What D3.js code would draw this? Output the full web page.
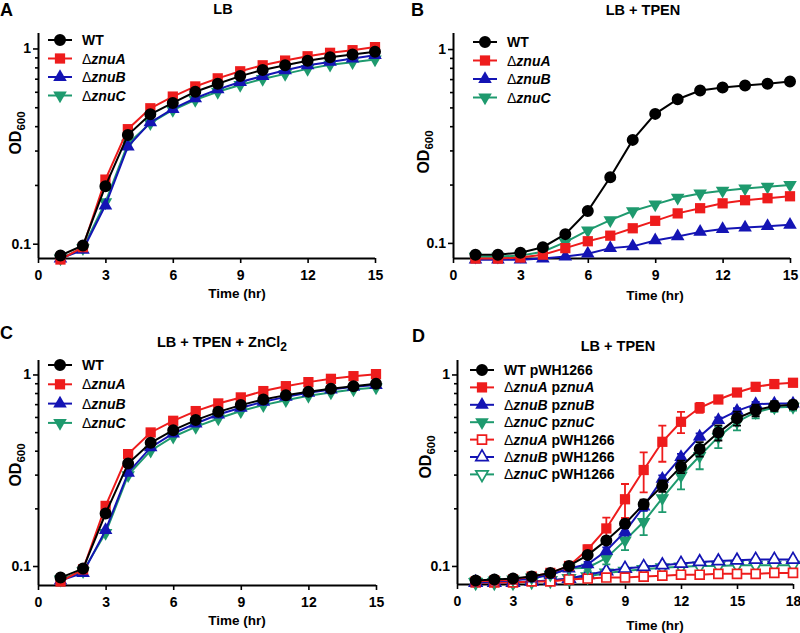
<!DOCTYPE html>
<html><head><meta charset="utf-8">
<script src="https://cdn.jsdelivr.net/npm/d3@7"></script>
<style>
body{margin:0;background:#fff}
svg text{font-family:Arial,"Liberation Sans",sans-serif;font-weight:bold;fill:#000}
</style>
</head><body>
<svg id="c" width="800" height="633"></svg>
<script>
// ---------- data ----------
const timesABC = [1,2,3,4,5,6,7,8,9,10,11,12,13,14,15];
const timesD = [1,2,3,4,5,6,7,8,9,10,11,12,13,14,15,16,17,18];
const xTicksABC = [0,3,6,9,12,15];
const xTicksD = [0,3,6,9,12,15,18];
const yTickValues = [0.1,0.2,0.3,0.4,0.5,0.6,0.7,0.8,0.9,1];
const yMajorTicks = [0.1,1];
const yTickLabels = ["0.1","1"];

const seriesNamesABC = ["WT","Δ*znuA*","Δ*znuB*","Δ*znuC*"];
const seriesNamesD = ["WT pWH1266","Δ*znuA* p*znuA*","Δ*znuB* p*znuB*","Δ*znuC* p*znuC*","Δ*znuA* pWH1266","Δ*znuB* pWH1266","Δ*znuC* pWH1266"];
const panelLetters = ["A","B","C","D"];
const panelTitles = ["LB","LB + TPEN","LB + TPEN + ZnCl_2","LB + TPEN"];

// Panel A: LB
const A_WT   = [0.087,0.098,0.197,0.360,0.460,0.526,0.600,0.660,0.722,0.776,0.820,0.864,0.902,0.931,0.961];
const A_znuA = [0.083,0.096,0.213,0.386,0.494,0.567,0.639,0.703,0.764,0.820,0.867,0.912,0.950,0.980,1.016];
const A_znuB = [0.084,0.093,0.157,0.314,0.418,0.490,0.556,0.617,0.673,0.722,0.773,0.820,0.853,0.888,0.924];
const A_znuC = [0.084,0.095,0.163,0.325,0.415,0.484,0.545,0.600,0.650,0.698,0.741,0.786,0.825,0.851,0.879];
// Panel B: LB + TPEN
const B_WT   = [0.087,0.087,0.089,0.095,0.111,0.146,0.218,0.340,0.463,0.551,0.611,0.634,0.649,0.662,0.681];
const B_znuA = [0.083,0.083,0.084,0.087,0.094,0.102,0.109,0.119,0.130,0.142,0.151,0.160,0.166,0.170,0.174];
const B_znuB = [0.082,0.082,0.082,0.083,0.085,0.088,0.094,0.096,0.103,0.108,0.114,0.118,0.120,0.122,0.124];
const B_znuC = [0.085,0.085,0.086,0.090,0.101,0.116,0.131,0.146,0.158,0.171,0.180,0.186,0.191,0.195,0.199];
// Panel C: LB + TPEN + ZnCl2
const C_WT   = [0.087,0.097,0.188,0.343,0.440,0.512,0.578,0.638,0.692,0.741,0.780,0.812,0.842,0.869,0.894];
const C_znuA = [0.083,0.096,0.206,0.384,0.498,0.573,0.644,0.706,0.759,0.819,0.869,0.912,0.949,0.980,1.004];
const C_znuB = [0.084,0.092,0.154,0.307,0.416,0.492,0.555,0.618,0.670,0.720,0.764,0.802,0.835,0.863,0.880];
const C_znuC = [0.085,0.094,0.149,0.298,0.400,0.473,0.533,0.589,0.644,0.692,0.734,0.774,0.805,0.835,0.855];
// Panel D: LB + TPEN, complementation (means and SD)
const D_WT_p     = [0.084,0.085,0.086,0.088,0.092,0.100,0.114,0.136,0.166,0.210,0.262,0.330,0.408,0.497,0.590,0.650,0.685,0.695];
const D_znuA_p   = [0.083,0.084,0.085,0.088,0.092,0.100,0.122,0.157,0.223,0.317,0.445,0.566,0.670,0.740,0.805,0.862,0.891,0.905];
const D_znuB_p   = [0.082,0.083,0.084,0.086,0.090,0.097,0.102,0.120,0.151,0.204,0.285,0.370,0.474,0.577,0.646,0.700,0.705,0.705];
const D_znuC_p   = [0.083,0.084,0.085,0.087,0.090,0.097,0.098,0.110,0.136,0.170,0.226,0.296,0.375,0.472,0.565,0.635,0.672,0.678];
const D_znuA_v   = [0.082,0.082,0.082,0.083,0.083,0.085,0.086,0.087,0.087,0.088,0.089,0.090,0.090,0.091,0.091,0.091,0.092,0.092];
const D_znuB_v   = [0.082,0.082,0.082,0.083,0.084,0.086,0.090,0.094,0.097,0.099,0.101,0.103,0.105,0.106,0.107,0.108,0.108,0.108];
const D_znuC_v   = [0.082,0.082,0.082,0.083,0.084,0.086,0.088,0.092,0.094,0.096,0.098,0.099,0.100,0.100,0.101,0.101,0.101,0.101];
const D_WT_p_sd   = [0,0,0,0,0.002,0.003,0.004,0.006,0.008,0.012,0.018,0.025,0.035,0.045,0.050,0.045,0.040,0.035];
const D_znuA_p_sd = [0,0,0,0,0.002,0.003,0.006,0.022,0.045,0.075,0.095,0.072,0.040,0.025,0.020,0.015,0.012,0.010];
const D_znuB_p_sd = [0,0,0,0,0.002,0.002,0.003,0.005,0.007,0.010,0.012,0.015,0.018,0.020,0.020,0.018,0.015,0.015];
const D_znuC_p_sd = [0,0,0,0,0.002,0.003,0.004,0.008,0.015,0.025,0.035,0.045,0.055,0.060,0.055,0.045,0.035,0.030];
const D_open_sd   = [0,0,0,0,0,0.001,0.001,0.002,0.002,0.002,0.002,0.002,0.002,0.002,0.002,0.002,0.002,0.002];

const colBlack = "#000000", colRed = "#ee1c1c", colBlue = "#1414b4", colGreen = "#1e9a6e";

// ---------- drawing ----------
const svg = d3.select("#c");

function richText(sel, label) {
  // '*' toggles italic, 'Δ' drawn in normal weight
  const parts = label.split("*");
  parts.forEach((seg, i) => {
    const italic = i % 2 === 1;
    const pieces = seg.split(/(Δ)/).filter(s => s.length);
    pieces.forEach(pc => {
      const t = sel.append("tspan").text(pc);
      if (italic) t.attr("font-style", "italic");
      if (pc === "Δ") t.attr("font-weight", "normal");
    });
  });
}

function marker(g, shape, filled, color, cx, cy) {
  let path;
  if (shape === "circle") path = d3.symbol(d3.symbolCircle, 113)();
  else if (shape === "square") path = d3.symbol(d3.symbolSquare, filled ? 105 : 80)();
  else path = d3.symbol(d3.symbolTriangle, filled ? 80 : 66)();
  return g.append("path").attr("d", path)
    .attr("transform", `translate(${cx},${cy})` + (shape === "down" ? " rotate(180)" : ""))
    .attr("fill", filled ? color : "#fff")
    .attr("stroke", color).attr("stroke-width", filled ? 0 : 1.7);
}

function drawPanel(p) {
  const g = svg.append("g");
  const x = d3.scaleLinear().domain(p.xDomain).range(p.xRange);
  const y = d3.scaleLog().domain(p.yDomain).range(p.yRange);

  // axes
  const xa = g.append("g").attr("transform", `translate(0,${p.yRange[0]})`)
    .call(d3.axisBottom(x).tickValues(p.xTicks).tickSize(5).tickSizeOuter(0).tickPadding(7).tickFormat(d3.format("d")));
  const ya = g.append("g").attr("transform", `translate(${p.xRange[0]},0)`)
    .call(d3.axisLeft(y).tickValues(yTickValues).tickSize(5).tickSizeOuter(0).tickPadding(2)
      .tickFormat(d => { const k = yMajorTicks.indexOf(d); return k >= 0 ? yTickLabels[k] : ""; }));
  [xa, ya].forEach(a => {
    a.attr("font-family", null).attr("font-size", 14);
    a.select(".domain").attr("stroke-width", 2);
    a.selectAll(".tick line").attr("stroke-width", 1.6);
  });
  ya.selectAll(".tick line").attr("x2", d => yMajorTicks.includes(d) ? -5 : -3);
  ya.select(".domain").attr("d", `M0.5,${p.yRange[0]}V${p.yRange[1]}`);
  xa.select(".domain").attr("d", `M${p.xRange[0]},0.5H${p.xRange[1]}`);

  // series (draw in reverse so first listed is on top)
  const line = d3.line().x(d => x(d[0])).y(d => y(d[1]));
  const sg = g.append("g");
  p.series.slice().reverse().forEach(s => {
    const pts = p.times.map((t, i) => [t, s.values[i], s.sd ? s.sd[i] : 0]);
    const gg = sg.append("g");
    gg.append("path").attr("d", line(pts)).attr("fill", "none")
      .attr("stroke", s.color).attr("stroke-width", 2);
    if (s.sd) {
      pts.forEach(d => {
        if (d[2] <= 0) return;
        const y1 = y(d[1] + d[2]), y0 = y(Math.max(d[1] - d[2], 0.05));
        const cx = x(d[0]);
        gg.append("path").attr("d", `M${cx},${y0}V${y1}M${cx-4},${y1}H${cx+4}M${cx-4},${y0}H${cx+4}`)
          .attr("stroke", s.color).attr("stroke-width", 1.8).attr("fill", "none");
      });
    }
    pts.forEach(d => marker(gg, s.shape, s.filled, s.color, x(d[0]), y(d[1])));
  });

  // legend
  const lg = g.append("g");
  p.series.forEach((s, i) => {
    const ly = p.legend.y + i * p.legend.dy;
    lg.append("line").attr("x1", p.legend.x - 12).attr("x2", p.legend.x + 12)
      .attr("y1", ly).attr("y2", ly).attr("stroke", s.color).attr("stroke-width", 2);
    marker(lg, s.shape, s.filled, s.color, p.legend.x, ly);
    const t = lg.append("text").attr("x", p.legend.x + 22).attr("y", ly + 5).attr("font-size", 14);
    richText(t, s.name);
  });

  // panel letter
  svg.append("text").attr("x", p.letter.x).attr("y", p.letter.y).attr("font-size", 18).text(p.letterText);
  // title
  const tt = svg.append("text").attr("x", p.title.x).attr("y", p.title.y).attr("font-size", 14.5).attr("text-anchor", "middle");
  const tp = p.titleText.split("_");
  tt.append("tspan").text(tp[0]);
  if (tp[1]) tt.append("tspan").attr("dy", 4).attr("font-size", 12).text(tp[1]);
  // x label
  svg.append("text").attr("x", p.xlab.x).attr("y", p.xlab.y).attr("font-size", 13.5).attr("text-anchor", "middle").text("Time (hr)");
  // y label
  const yl = svg.append("text").attr("transform", `translate(${p.ylab.x},${p.ylab.y}) rotate(-90)`)
    .attr("font-size", 16).attr("text-anchor", "middle");
  yl.append("tspan").text("OD");
  yl.append("tspan").attr("dy", 4).attr("font-size", 11.5).text("600");
}

function abcSeries(v) {
  return [
    {name: seriesNamesABC[0], values: v[0], color: colBlack, shape: "circle", filled: true},
    {name: seriesNamesABC[1], values: v[1], color: colRed, shape: "square", filled: true},
    {name: seriesNamesABC[2], values: v[2], color: colBlue, shape: "up", filled: true},
    {name: seriesNamesABC[3], values: v[3], color: colGreen, shape: "down", filled: true}
  ];
}

drawPanel({
  times: timesABC, xDomain: [0,15], xRange: [38,375], xTicks: xTicksABC,
  yDomain: [0.0845,1.2], yRange: [258,33],
  series: abcSeries([A_WT, A_znuA, A_znuB, A_znuC]),
  legend: {x: 60, y: 40, dy: 18.5},
  letterText: panelLetters[0], letter: {x: 0, y: 16},
  titleText: panelTitles[0], title: {x: 223, y: 14},
  xlab: {x: 237, y: 298}, ylab: {x: 21, y: 133}
});
drawPanel({
  times: timesABC, xDomain: [0,15], xRange: [453,790], xTicks: xTicksABC,
  yDomain: [0.0836,1.21], yRange: [258,33],
  series: abcSeries([B_WT, B_znuA, B_znuB, B_znuC]),
  legend: {x: 485, y: 42, dy: 18.5},
  letterText: panelLetters[1], letter: {x: 411, y: 16},
  titleText: panelTitles[1], title: {x: 643, y: 15},
  xlab: {x: 655, y: 300}, ylab: {x: 429, y: 152}
});
drawPanel({
  times: timesABC, xDomain: [0,15], xRange: [38,376], xTicks: xTicksABC,
  yDomain: [0.0796,1.19], yRange: [585,360],
  series: abcSeries([C_WT, C_znuA, C_znuB, C_znuC]),
  legend: {x: 60, y: 365, dy: 19.3},
  letterText: panelLetters[2], letter: {x: 0, y: 339},
  titleText: panelTitles[2], title: {x: 222, y: 347},
  xlab: {x: 237, y: 625}, ylab: {x: 21, y: 465}
});
drawPanel({
  times: timesD, xDomain: [0,18], xRange: [457,793], xTicks: xTicksD,
  yDomain: [0.0805,1.19], yRange: [584,360],
  series: [
    {name: seriesNamesD[0], values: D_WT_p, sd: D_WT_p_sd, color: colBlack, shape: "circle", filled: true},
    {name: seriesNamesD[1], values: D_znuA_p, sd: D_znuA_p_sd, color: colRed, shape: "square", filled: true},
    {name: seriesNamesD[2], values: D_znuB_p, sd: D_znuB_p_sd, color: colBlue, shape: "up", filled: true},
    {name: seriesNamesD[3], values: D_znuC_p, sd: D_znuC_p_sd, color: colGreen, shape: "down", filled: true},
    {name: seriesNamesD[4], values: D_znuA_v, sd: D_open_sd, color: colRed, shape: "square", filled: false},
    {name: seriesNamesD[5], values: D_znuB_v, sd: D_open_sd, color: colBlue, shape: "up", filled: false},
    {name: seriesNamesD[6], values: D_znuC_v, sd: D_open_sd, color: colGreen, shape: "down", filled: false}
  ],
  legend: {x: 482, y: 370, dy: 17.4},
  letterText: panelLetters[3], letter: {x: 412, y: 342},
  titleText: panelTitles[3], title: {x: 618, y: 351},
  xlab: {x: 655, y: 630}, ylab: {x: 431, y: 457}
});
</script>
</body></html>
